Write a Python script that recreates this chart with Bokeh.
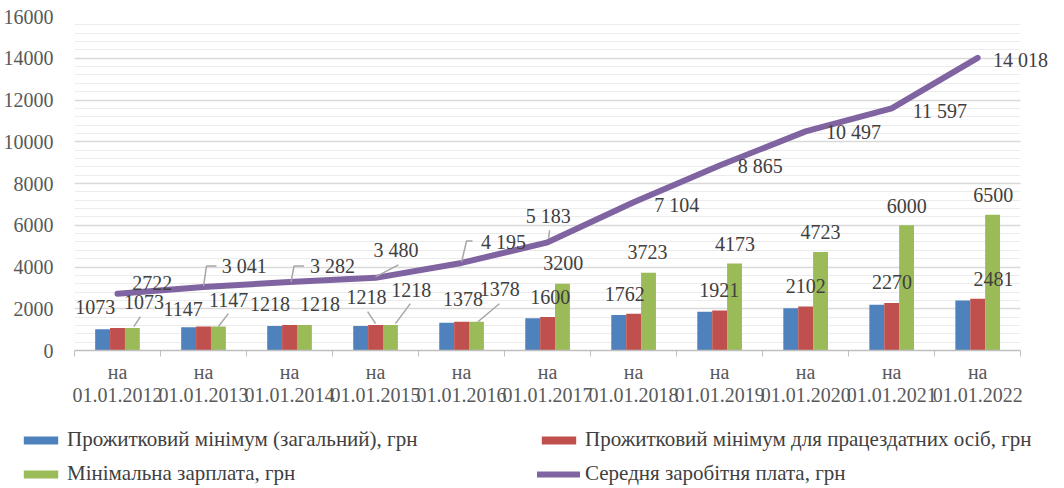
from bokeh.plotting import figure
from bokeh.layouts import column, row
from bokeh.models import (ColumnDataSource, LabelSet, Legend, LegendItem, FixedTicker,
                          SingleIntervalTicker, Range1d, NumeralTickFormatter)
from bokeh.transform import dodge
from bokeh.embed import file_html
from bokeh.resources import INLINE

# ---------------- data ----------------
dates = ["01.01.2012", "01.01.2013", "01.01.2014", "01.01.2015", "01.01.2016", "01.01.2017",
         "01.01.2018", "01.01.2019", "01.01.2020", "01.01.2021", "01.01.2022"]
subsistence_general = [1017, 1108, 1176, 1176, 1330, 1544, 1700, 1853, 2027, 2189, 2393]
subsistence_able = [1073, 1147, 1218, 1218, 1378, 1600, 1762, 1921, 2102, 2270, 2481]
min_wage = [1073, 1147, 1218, 1218, 1378, 3200, 3723, 4173, 4723, 6000, 6500]
avg_wage = [2722, 3041, 3282, 3480, 4195, 5183, 7104, 8865, 10497, 11597, 14018]
avg_wage_text = ["2722", "3 041", "3 282", "3 480", "4 195", "5 183", "7 104", "8 865",
                 "10 497", "11 597", "14 018"]
series_names = ["Прожитковий мінімум (загальний), грн",
                "Прожитковий мінімум для працездатних осіб, грн",
                "Мінімальна зарплата, грн",
                "Середня заробітня плата, грн"]

# ---------------- style ----------------
C_BLUE, C_RED, C_GREEN, C_PURPLE = "#4F81BD", "#C0504D", "#9BBB59", "#8064A2"
FONT = "Liberation Serif"
TXT = "#404040"
AX = "#595959"
BAR_W = 0.1731
UX = 11 / 953.0          # data units per px (x)
UY = 16000 / 335.0       # data units per px (y)
X_END = 10.5 + 28 * UX   # extra room on the right for the last label

# label offsets in px (dx right, dy up)
line_off = [(34.7, 11), (40.6, 20.8), (43, 15.8), (20.4, 27.6), (41.8, 20.7), (0.7, 26),
            (43.1, -2.7), (40.5, -0.6), (47.9, -0.8), (48.3, -2.8), (42.7, -2.5)]
red_off = [(-22.3, 21), (-20.4, 18), (-19.5, 21.5), (-9.1, 28.5), (1.3, 23.1), (2.7, 20.5),
           (-8.9, 20.1), (-0.5, 20.8), (0, 21), (0.3, 21.5), (15.7, 20.1)]
green_off = [(11.7, 26.5), (10.1, 27), (15.5, 21.5), (20.9, 35.5), (23.3, 33.1), (0.7, 21),
             (-0.9, 21.1), (0.5, 19.6), (0, 20.1), (0.3, 19.4), (0.7, 19.9)]

n = len(dates)
xs = list(range(n))

p = figure(width=1048, height=408, output_backend="svg", toolbar_location=None,
           x_range=Range1d(-0.5, X_END), y_range=Range1d(0, 16000),
           min_border_left=69, min_border_right=0, min_border_top=16, min_border_bottom=57)
p.outline_line_color = None
p.background_fill_color = "white"
p.border_fill_color = "white"

src = ColumnDataSource(dict(x=xs, gen=subsistence_general, able=subsistence_able,
                            mw=min_wage, avg=avg_wage))

def draw_series(fig):
    rb = fig.vbar(x=dodge("x", -BAR_W, range=fig.x_range), top="gen", width=BAR_W, source=src,
                  color=C_BLUE, line_color=None)
    rr = fig.vbar(x="x", top="able", width=BAR_W, source=src, color=C_RED, line_color=None)
    rg = fig.vbar(x=dodge("x", BAR_W, range=fig.x_range), top="mw", width=BAR_W, source=src,
                  color=C_GREEN, line_color=None)
    rl = fig.line(x="x", y="avg", source=src, line_width=6, color=C_PURPLE,
                  line_cap="round", line_join="round")
    return rb, rr, rg, rl

draw_series(p)

# leader lines (anchored to data points, offsets in px)
def leader(ax, ay, pts):
    return [ax + dx * UX for dx, dy in pts], [ay + dy * UY for dx, dy in pts]

lead_x, lead_y = [], []
for i, pts in [(1, [(0, 1), (3, 21), (13, 21)]), (2, [(1.5, 0), (4.5, 16), (14.5, 16)]),
               (3, [(0, 1), (23, 13)]), (4, [(0, 1), (5, 22), (11, 22)]), (5, [(1, 4), (2, 12)])]:
    a, b = leader(xs[i], avg_wage[i], pts); lead_x.append(a); lead_y.append(b)
for i, pts in [(0, [(1.5, 1.5), (8, 11.5)]), (1, [(0, 0), (10, 13)]), (3, [(5, 1.5), (20, 21.5)]),
               (4, [(1.5, 0), (23, 18)])]:
    a, b = leader(xs[i] + BAR_W, min_wage[i], pts); lead_x.append(a); lead_y.append(b)
for i, pts in [(3, [(0, 1.5), (-8, 13.5)])]:
    a, b = leader(xs[i], subsistence_able[i], pts); lead_x.append(a); lead_y.append(b)
p.multi_line(lead_x, lead_y, line_color="#A6A6A6", line_width=1.5)

def labels(x, y, text, off):
    s = ColumnDataSource(dict(x=x, y=y, t=text, xo=[o[0] for o in off], yo=[o[1] for o in off]))
    ls = LabelSet(x="x", y="y", text="t", x_offset="xo", y_offset="yo", source=s,
                  text_font=FONT, text_font_size="20px", text_color=TXT,
                  text_align="center", text_baseline="middle")
    p.add_layout(ls)

labels(xs, avg_wage, avg_wage_text, line_off)
labels(xs, subsistence_able, [str(v) for v in subsistence_able], red_off)
labels([x + BAR_W for x in xs], min_wage, [str(v) for v in min_wage], green_off)

# axes
p.xaxis.ticker = FixedTicker(ticks=xs, minor_ticks=[x - 0.5 for x in range(n + 1)])
p.xaxis.major_label_overrides = {x: "на\n" + d for x, d in zip(xs, dates)}
p.xaxis.bounds = (-0.5, n - 0.5)
p.xaxis.major_tick_line_color = None
p.xaxis.minor_tick_line_color = "#BFBFBF"
p.xaxis.minor_tick_in = 0
p.xaxis.minor_tick_out = 6
p.xaxis.axis_line_color = "#BFBFBF"
p.xaxis.axis_line_width = 1.5
p.xaxis.major_label_text_font = FONT
p.xaxis.major_label_text_font_size = "20px"
p.xaxis.major_label_text_color = AX
p.xaxis.major_label_standoff = 4
p.xaxis.major_label_text_line_height = 1.05

p.yaxis.ticker = SingleIntervalTicker(interval=2000, num_minor_ticks=5)
p.yaxis.formatter = NumeralTickFormatter(format="0")
p.yaxis.axis_line_color = None
p.yaxis.major_tick_line_color = None
p.yaxis.minor_tick_line_color = None
p.yaxis.major_label_text_font = FONT
p.yaxis.major_label_text_font_size = "20px"
p.yaxis.major_label_text_color = AX
p.yaxis.major_label_standoff = 15

p.xgrid.grid_line_color = None
p.ygrid.grid_line_color = "#D9D9D9"
p.ygrid.grid_line_width = 1.5
p.ygrid.minor_grid_line_color = "#ECECEC"
p.ygrid.cross_bounds = (-0.5, n - 0.5)

# ---------------- legend (separate strip below the chart) ----------------
# the strip shows the same series, but its ranges keep the marks out of view;
# only the legend swatches are visible
lg = figure(width=1048, height=78, output_backend="svg", toolbar_location=None,
            x_range=Range1d(-100, -99), y_range=Range1d(-100, -99),
            x_axis_location=None, y_axis_location=None,
            min_border_left=0, min_border_right=0, min_border_top=0, min_border_bottom=0)
lg.outline_line_color = None
lg.xgrid.visible = False
lg.ygrid.visible = False
k_blue, k_red, k_green, k_line = draw_series(lg)

legend = Legend(items=[LegendItem(label=series_names[0], renderers=[k_blue]),
                       LegendItem(label=series_names[1], renderers=[k_red]),
                       LegendItem(label=series_names[2], renderers=[k_green]),
                       LegendItem(label=series_names[3], renderers=[k_line])],
                location=(19, 0), ncols=2, orientation="horizontal",
                glyph_width=43, glyph_height=10, label_height=20, label_width=461,
                label_standoff=5, spacing=9, padding=0, margin=0,
                border_line_color=None, background_fill_alpha=0,
                label_text_font=FONT, label_text_font_size="21px", label_text_color=TXT)
lg.add_layout(legend, "center")

open("out.html", "w").write(file_html(column(p, row(lg)), INLINE))
